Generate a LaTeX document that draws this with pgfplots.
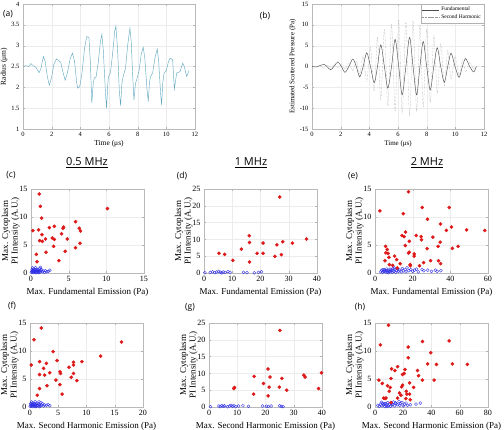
\documentclass[border=0pt]{standalone}
\usepackage{pgfplots}
\pgfplotsset{compat=1.18}
\usepackage{fontspec}
\setmainfont{Liberation Serif}
\newfontfamily\sansf{Open Sans}
\definecolor{tealc}{RGB}{100,170,192}
\definecolor{myred}{RGB}{222,25,25}
\definecolor{myblue}{RGB}{45,45,230}
\pgfplotsset{
 base/.style={scale only axis, axis line style={gray!55, line width=0.3pt}, grid=major,
   grid style={gray!15, line width=0.3pt}, tick style={gray!60, line width=0.3pt},
   major tick length=2pt, /pgf/number format/assume math mode=true,
   tick label style={font=\fontsize{8}{9}\selectfont},
   label style={font=\fontsize{9}{10}\selectfont}},
 sc/.style={base, width=113pt, height=84pt, ymin=0,
   ylabel={Max. Cytoplasm\\PI Intensity (A.U.)},
   ylabel style={align=center, yshift=-7pt, font=\fontsize{9}{9.6}\selectfont},
   xlabel style={yshift=1pt}},
 redpts/.style={only marks, mark=*, mark size=1.6pt, color=myred, mark options={fill=myred, draw=myred}},
 bluepts/.style={only marks, mark=o, mark size=1.5pt, color=myblue, mark options={line width=0.35pt}},
}
\begin{document}
\begin{tikzpicture}[x=1pt,y=1pt]
\useasboundingbox (0,0) rectangle (504,430);
% (a)
\begin{axis}[base, at={(23pt,301pt)}, anchor=south west, width=172pt, height=125pt,
  xmin=0, xmax=12, ymin=1, ymax=4, xtick={0,2,...,12}, ytick={1,1.5,...,4},
  tick label style={font=\fontsize{6.5}{7}\selectfont},
  label style={font=\fontsize{7.5}{8}\selectfont},
  xlabel={Time (μs)}, ylabel={Radius (μm)}, xlabel style={yshift=3pt}, ylabel style={yshift=-3pt}]
\addplot[color=tealc, line width=0.45pt] coordinates {
(0,2.50)(0.2,2.52)(0.4,2.50)(0.55,2.57)(0.7,2.52)(0.9,2.48)(1.12,2.35)(1.25,2.45)(1.42,2.74)(1.55,2.62)
(1.7,2.25)(1.84,2.05)(2.0,2.25)(2.15,2.55)(2.33,2.68)(2.5,2.64)(2.63,2.60)(2.8,2.35)(2.94,2.17)(3.1,2.35)
(3.3,2.70)(3.45,2.82)(3.6,2.62)(3.75,2.10)(3.82,1.98)(3.96,2.02)(4.1,2.30)(4.3,2.95)(4.45,3.22)(4.6,3.20)
(4.7,2.60)(4.8,1.62)(4.9,2.10)(4.97,2.22)(5.1,2.25)(5.25,2.60)(5.4,3.10)(5.5,3.27)(5.6,2.90)(5.75,1.90)
(5.83,1.50)(5.92,2.10)(5.97,2.26)(6.1,2.35)(6.25,2.80)(6.4,3.35)(6.48,3.47)(6.6,2.90)(6.72,1.90)(6.81,1.56)
(6.9,2.10)(7.0,2.28)(7.15,2.45)(7.3,3.00)(7.46,3.42)(7.55,3.10)(7.65,2.30)(7.74,1.70)(7.85,2.10)(7.93,2.18)
(8.1,2.40)(8.25,2.80)(8.39,2.96)(8.5,2.70)(8.65,1.95)(8.74,1.66)(8.82,2.10)(8.9,2.26)(9.05,2.35)(9.2,2.70)
(9.37,2.92)(9.47,2.60)(9.6,1.85)(9.67,1.58)(9.75,2.10)(9.84,2.34)(10.0,2.40)(10.15,2.62)(10.26,2.70)(10.44,2.66)
(10.5,2.30)(10.56,1.96)(10.64,2.15)(10.72,2.34)(10.96,2.38)(11.14,2.58)(11.25,2.50)(11.42,2.26)(11.58,2.40)};
\end{axis}
% (b)
\begin{axis}[base, at={(312pt,301pt)}, anchor=south west, width=172pt, height=125pt,
  xmin=0, xmax=12, ymin=-15, ymax=15, xtick={0,2,...,12}, ytick={-15,-10,...,15},
  tick label style={font=\fontsize{6.5}{7}\selectfont},
  label style={font=\fontsize{7}{8}\selectfont},
  xlabel={Time (μs)}, ylabel={Estimated Scattered Pressure (Pa)}, xlabel style={yshift=3pt}, ylabel style={yshift=-3pt},
  legend style={at={(1,1)}, anchor=north east, font=\fontsize{5.5}{6}\selectfont, draw=gray!60, line width=0.3pt,
    inner sep=1pt, row sep=-2pt}, legend cell align=left]
\addplot[color=black!70, line width=0.45pt, smooth, tension=0.5] coordinates {
(0,0)(0.3,-0.1)(0.55,0.2)(0.85,0.5)(1.07,-0.1)(1.3,-0.8)(1.55,0.1)(1.8,1.1)(2.05,0)(2.3,-1.4)(2.57,0)(2.85,1.8)
(3.09,0)(3.33,-2.5)(3.57,0)(3.82,3.3)(4.08,0)(4.34,-3.9)(4.57,0)(4.8,5.2)(5.05,0)(5.29,-5.2)(5.55,0)(5.8,6.5)
(6.05,0)(6.29,-6.8)(6.55,0)(6.81,7.0)(7.05,0)(7.3,-6.8)(7.53,0)(7.76,6.0)(8.0,0)(8.25,-5.6)(8.5,0)(8.74,4.5)
(8.98,0)(9.23,-3.8)(9.47,0)(9.7,3.2)(9.98,0)(10.26,-2.6)(10.49,0)(10.72,1.9)(11.0,0)(11.28,-1.3)(11.47,0)};
\addlegendentry{Fundamental}
\addplot[color=black!40, line width=0.4pt, densely dotted, smooth, tension=0.5] coordinates {
(0,0)(0.3,-0.1)(0.55,0.2)(0.85,-0.3)(1.07,0.3)(1.3,-0.3)(1.55,0.4)(1.8,-0.4)(2.05,0.5)(2.3,-0.6)(2.57,0.8)
(2.85,-1.0)(3.09,1.3)(3.33,-1.8)(3.57,2.5)(3.82,-3.5)(4.08,4.5)(4.34,-6.0)(4.57,7.0)(4.8,-8.0)(5.05,9.0)
(5.29,-9.5)(5.55,10.0)(5.8,-10.5)(6.05,11.2)(6.29,-11.3)(6.55,10.8)(6.81,-11.8)(7.05,11.0)(7.3,-10.8)
(7.53,10.0)(7.76,-9.8)(8.0,9.0)(8.25,-8.5)(8.5,7.5)(8.74,-6.5)(8.98,5.5)(9.23,-4.5)(9.47,3.8)(9.7,-3.0)
(9.98,2.5)(10.26,-2.0)(10.49,1.5)(10.72,-1.2)(11.0,0.9)(11.28,-0.6)(11.47,0)};
\addlegendentry{Second Harmonic}
\end{axis}
% (c)
\begin{axis}[sc, at={(31pt,157pt)}, anchor=south west, xmin=0, xmax=15, ymax=15,
  xtick={0,5,10,15}, ytick={0,5,10,15}, xlabel={Max. Fundamental Emission (Pa)}]
\addplot[bluepts] coordinates {(0.05,0.1)(0.1,0.3)(0.15,0.6)(0.2,0.2)(0.25,0.45)(0.3,0.05)(0.35,0.7)(0.4,0.3)
(0.45,0.5)(0.5,0.15)(0.55,0.35)(0.6,0.6)(0.65,0.05)(0.7,0.25)(0.75,0.45)(0.8,0.1)(0.85,0.6)(0.9,0.3)(0.95,0.2)
(1.0,0.5)(1.05,0.05)(1.1,0.35)(1.15,0.8)(1.2,0.15)(1.3,0.4)(1.4,0.6)(1.5,0.2)(1.6,0.35)(1.8,0.1)(1.9,0.4)
(2.1,0.25)(2.3,0.3)(2.5,0.5)(0.2,0.9)(0.6,0.95)(1.25,1.0)};
\addplot[redpts] coordinates {(1.1,14.1)(1.24,11.9)(1.41,9.8)(0.26,7.56)(1.01,7.7)(2.43,8.1)(3.09,8.33)(4.24,8.0)
(4.33,8.2)(4.06,7.0)(5.91,9.17)(6.57,7.5)(6.4,8.0)(10.15,11.5)(1.46,6.85)(1.15,5.77)(1.5,5.65)(1.94,6.07)
(2.82,6.25)(3.09,6.0)(4.81,6.07)(3.0,4.76)(4.54,3.87)(1.99,3.7)(0.71,3.33)(0.79,2.0)(3.7,2.2)(5.9,4.5)(6.5,5.3)};
\end{axis}
% (d)
\begin{axis}[sc, at={(204pt,157pt)}, anchor=south west, xmin=0, xmax=40, ymax=25,
  xtick={0,10,...,40}, ytick={0,5,...,25}, xlabel={Max. Fundamental Emission (Pa)}]
\addplot[bluepts] coordinates {(0.3,0.1)(2.2,0.2)(3.0,0.35)(3.8,0.1)(4.5,0.3)(5.2,0.45)(5.8,0.2)(6.3,0.05)
(6.8,0.3)(7.5,0.15)(8.5,0.4)(9.2,0.2)(14,0.2)(15.2,0.1)(17.8,0.05)(19.3,0.2)(20.3,0.35)};
\addplot[redpts] coordinates {(5.3,5.85)(7.3,5.55)(10.2,3.77)(13.2,7.1)(16.0,11.1)(16.1,9.1)(16.1,3.27)(18.8,5.85)
(20.9,8.9)(20.9,5.85)(25.1,4.96)(25.8,8.4)(26.8,22.6)(27.4,5.46)(27.9,9.3)(31.3,8.9)(36.3,10.1)};
\end{axis}
% (e)
\begin{axis}[sc, at={(375pt,157pt)}, anchor=south west, xmin=0, xmax=60, ymax=15,
  xtick={0,20,40,60}, ytick={0,5,10,15}, xlabel={Max. Fundamental Emission (Pa)}]
\addplot[bluepts] coordinates {(3,0.2)(3.5,0.5)(4,0.1)(4.5,0.3)(5,0.6)(5.5,0.2)(6,0.4)(6.5,0.1)(7,0.5)(7.5,0.3)
(8,0.7)(8.5,0.2)(9,0.5)(9.5,0.8)(10,0.3)(10.5,0.6)(11,0.1)(11.5,0.4)(12,0.7)(12.5,0.3)(13,0.5)(14,0.2)(14.5,0.8)
(15,0.4)(16,0.6)(16.5,0.2)(17,0.9)(18,0.4)(19,0.6)(20,0.3)(21,0.5)(22,0.7)(23,0.2)(25,0.6)(26,0.4)(28,0.5)
(30,0.3)(32,0.5)(33,0.3)(35,0.4)(4.2,0.6)(5.2,0.35)(6.2,0.7)(7.2,0.05)(8.2,0.45)(9.2,0.15)(10.2,0.9)};
\addplot[redpts] coordinates {(2.6,11.1)(17.8,14.5)(15.0,10.6)(25.1,11.7)(39.4,11.7)(27.9,9.6)(34.8,8.75)(40.6,8.2)
(37.9,7.6)(48.7,7.7)(58.3,7.6)(14.3,6.7)(15.5,6.5)(16.2,7.3)(21.9,6.7)(24.5,6.5)(24.7,5.95)(30.7,6.4)(33.5,4.76)
(34.6,5.5)(41.1,4.4)(44.1,4.76)(27.7,4.35)(16.1,4.9)(18.2,5.65)(17.8,3.57)(18.2,3.7)(20.8,3.4)(20.8,3.0)
(5.6,4.76)(6.5,4.2)(5.8,3.6)(7.0,3.5)(7.4,2.8)(10.4,3.0)(11.5,2.4)(9.35,1.37)(7.6,1.5)(5.3,2.2)(18.7,1.5)
(18.7,1.3)(25.8,1.85)(29.5,2.2)(33.7,2.2)(34.8,1.67)(23.6,1.3)(13.4,1.67)(11.8,0.9)};
\end{axis}
% (f)
\begin{axis}[sc, at={(30pt,23pt)}, anchor=south west, xmin=0, xmax=20, ymax=15,
  xtick={0,5,...,20}, ytick={0,5,10,15}, xlabel={Max. Second Harmonic Emission (Pa)}]
\addplot[bluepts] coordinates {(0.05,0.1)(0.1,0.3)(0.15,0.6)(0.2,0.2)(0.3,0.45)(0.4,0.05)(0.45,0.7)(0.5,0.3)
(0.6,0.5)(0.7,0.15)(0.75,0.35)(0.8,0.6)(0.9,0.05)(1.0,0.25)(1.05,0.45)(1.1,0.1)(1.2,0.6)(1.3,0.3)(1.4,0.2)
(1.5,0.5)(1.6,0.05)(1.7,0.35)(1.6,0.9)(1.8,0.15)(2.0,0.4)(2.2,0.6)(2.4,0.2)(2.6,0.35)(2.9,0.3)(3.2,0.4)
(3.5,0.25)(0.3,0.9)(0.9,0.95)(1.9,0.8)};
\addplot[redpts] coordinates {(2.0,14.1)(0.7,12.0)(4.1,9.9)(12.5,9.1)(16.2,11.6)(0.23,7.5)(1.7,8.1)(2.9,7.8)(4.8,8.3)
(7.7,8.0)(9.2,8.1)(6.9,7.1)(7.7,7.5)(2.4,6.9)(1.7,5.8)(2.6,5.7)(3.5,6.1)(5.3,6.3)(5.4,6.0)(7.7,6.0)(7.3,5.3)
(4.6,4.8)(8.3,4.7)(5.3,4.0)(3.0,3.8)(1.7,3.3)(1.3,2.1)(5.7,2.3)};
\end{axis}
% (g)
\begin{axis}[sc, at={(209pt,23pt)}, anchor=south west, xmin=0, xmax=40, ymax=25,
  xtick={0,10,...,40}, ytick={0,5,...,25}, xlabel={Max. Second Harmonic Emission (Pa)}]
\addplot[bluepts] coordinates {(0.5,0.1)(3.5,0.3)(4.0,0.1)(4.5,0.4)(5,0.2)(5.5,0.35)(6.5,0.1)(7.2,0.3)(7.8,0.5)
(8.3,0.2)(8.8,0.35)(9.5,0.1)(10.5,0.3)(12,0.4)(14,0.2)(19,0.3)(21,0.15)(22,0.3)(25,0.4)(25.6,0.2)(26.2,0.1)(20.3,0.2)};
\addplot[redpts] coordinates {(25.1,22.8)(20.9,11.3)(16.0,9.1)(21.6,8.9)(19.3,7.0)(25.8,8.5)(33.6,9.5)(34.0,8.9)
(39.8,10.2)(8.8,5.5)(9.0,5.8)(15.8,3.8)(21.3,5.9)(24.9,5.9)(20.9,3.3)(27.5,5.0)(38.8,5.5)};
\end{axis}
% (h)
\begin{axis}[sc, at={(375pt,23pt)}, anchor=south west, xmin=0, xmax=80, ymax=15,
  xtick={0,20,...,80}, ytick={0,5,10,15}, xlabel={Max. Second Harmonic Emission (Pa)}]
\addplot[bluepts] coordinates {(2,0.3)(3,0.1)(4,0.5)(5,0.2)(5.5,0.7)(6,0.4)(7,0.1)(7.5,0.6)(8,0.3)(9,0.8)(9.5,0.2)
(10,0.5)(11,0.1)(11.5,0.7)(12,0.35)(13,0.9)(14,0.2)(15,0.6)(16,0.4)(17,1.0)(17.5,0.3)(18,0.6)(19,0.8)(20,0.2)
(21,0.5)(22,0.7)(23,0.3)(25,0.4)(29,0.5)(32,0.7)(6.5,0.55)(8.5,0.05)(12.5,0.45)(14.5,0.75)(4.5,0.85)};
\addplot[redpts] coordinates {(9.6,14.6)(3.8,11.1)(23.5,10.7)(33.6,11.7)(52.5,11.8)(39.5,9.7)(23.5,8.8)(43.5,7.6)
(37.2,7.7)(54.8,7.7)(65.4,7.6)(11.8,6.8)(14.1,6.5)(16.0,7.2)(21.2,6.7)(30.1,6.5)(19.5,5.8)(20.7,6.0)(11.3,5.1)
(30.8,5.6)(33.6,4.8)(41.9,4.8)(2.8,4.8)(5.2,4.2)(8.9,3.8)(10.8,3.5)(18.8,3.6)(19.5,3.9)(24.5,4.3)(27.3,3.5)
(10.1,2.8)(18.4,2.1)(22.1,2.8)(22.6,2.3)(24.5,2.3)(6.1,1.6)(7.8,1.6)(16.0,1.6)(21.9,1.5)(24.9,1.3)(11.3,0.8)
(7.1,1.5)(17.4,2.5)};
\end{axis}
% column titles and panel labels
\node[font=\sansf\fontsize{11}{12}\selectfont] at (87,267) {\underline{0.5 MHz}};
\node[font=\sansf\fontsize{11}{12}\selectfont] at (251,267) {\underline{1 MHz}};
\node[font=\sansf\fontsize{11}{12}\selectfont] at (427,267) {\underline{2 MHz}};
\node[font=\sansf\fontsize{8.5}{9}\selectfont] at (8,416) {(a)};
\node[font=\sansf\fontsize{8.5}{9}\selectfont] at (265,414) {(b)};
\node[font=\sansf\fontsize{8.5}{9}\selectfont] at (11,255) {(c)};
\node[font=\sansf\fontsize{8.5}{9}\selectfont] at (182,254) {(d)};
\node[font=\sansf\fontsize{8.5}{9}\selectfont] at (353,254) {(e)};
\node[font=\sansf\fontsize{8.5}{9}\selectfont] at (12,124) {(f)};
\node[font=\sansf\fontsize{8.5}{9}\selectfont] at (190,123) {(g)};
\node[font=\sansf\fontsize{8.5}{9}\selectfont] at (360,123) {(h)};
\end{tikzpicture}
\end{document}
